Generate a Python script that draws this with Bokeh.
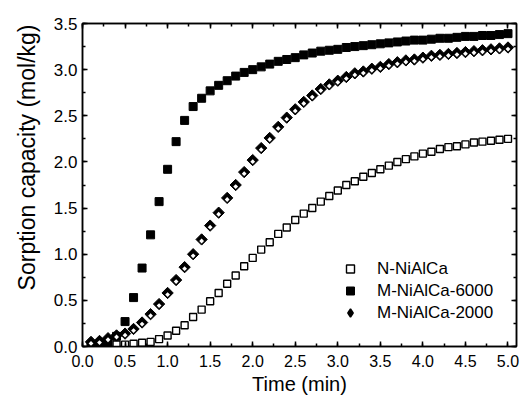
from bokeh.plotting import figure
from bokeh.models import (LinearAxis, SingleIntervalTicker, Range1d, Legend, LegendItem,
                          Title, CustomJSTickFormatter, PrintfTickFormatter, ColumnDataSource)
from bokeh.transform import dodge
from bokeh.embed import file_html
from bokeh.resources import INLINE
import math

time_min = [0.1, 0.2, 0.3, 0.4, 0.5, 0.6, 0.7, 0.8, 0.9, 1.0,
            1.1, 1.2, 1.3, 1.4, 1.5, 1.6, 1.7, 1.8, 1.9, 2.0,
            2.1, 2.2, 2.3, 2.4, 2.5, 2.6, 2.7, 2.8, 2.9, 3.0,
            3.1, 3.2, 3.3, 3.4, 3.5, 3.6, 3.7, 3.8, 3.9, 4.0,
            4.1, 4.2, 4.3, 4.4, 4.5, 4.6, 4.7, 4.8, 4.9, 5.0]

n_nialca = [0.02, 0.02, 0.02, 0.02, 0.02, 0.03, 0.04, 0.05, 0.08, 0.12,
            0.17, 0.23, 0.32, 0.40, 0.49, 0.58, 0.68, 0.77, 0.87, 0.96,
            1.05, 1.13, 1.22, 1.29, 1.37, 1.44, 1.50, 1.57, 1.63, 1.69,
            1.75, 1.79, 1.84, 1.88, 1.92, 1.96, 2.00, 2.03, 2.06, 2.09,
            2.11, 2.14, 2.16, 2.17, 2.19, 2.21, 2.22, 2.23, 2.24, 2.25]

m_nialca_6000 = [0.01, 0.02, 0.04, 0.11, 0.27, 0.53, 0.85, 1.21, 1.57, 1.92,
                 2.22, 2.45, 2.60, 2.69, 2.77, 2.83, 2.88, 2.93, 2.97, 3.00,
                 3.03, 3.06, 3.09, 3.11, 3.13, 3.16, 3.18, 3.20, 3.21, 3.22,
                 3.24, 3.25, 3.26, 3.27, 3.28, 3.29, 3.30, 3.31, 3.32, 3.32,
                 3.33, 3.34, 3.34, 3.35, 3.36, 3.36, 3.37, 3.37, 3.38, 3.39]

m_nialca_2000 = [0.05, 0.06, 0.09, 0.12, 0.14, 0.19, 0.26, 0.35, 0.46, 0.58,
                 0.72, 0.86, 1.00, 1.16, 1.31, 1.45, 1.61, 1.75, 1.89, 2.02,
                 2.15, 2.26, 2.38, 2.48, 2.57, 2.65, 2.72, 2.79, 2.84, 2.88,
                 2.92, 2.96, 2.98, 3.01, 3.03, 3.06, 3.08, 3.10, 3.11, 3.13,
                 3.15, 3.16, 3.17, 3.18, 3.19, 3.20, 3.21, 3.22, 3.23, 3.24]

series_labels = ["N-NiAlCa", "M-NiAlCa-6000", "M-NiAlCa-2000"]

FONT = "Liberation Sans"

src = ColumnDataSource(data=dict(t=time_min, a=n_nialca, b=m_nialca_6000, c=m_nialca_2000))

p = figure(width=522, height=397, x_range=Range1d(0, 5.1), y_range=Range1d(0, 3.5),
           output_backend="svg", toolbar_location=None,
           min_border_left=81, min_border_right=6, min_border_top=23, min_border_bottom=50)
p.grid.visible = False
p.outline_line_color = "black"
p.outline_line_width = 1.5
p.background_fill_color = "white"
p.border_fill_color = "white"


def style_axis(ax, labels=True, size="16px"):
    ax.ticker = SingleIntervalTicker(interval=0.5, num_minor_ticks=2)
    ax.axis_line_color = "black"
    ax.axis_line_width = 1.5
    ax.major_tick_line_color = "black"
    ax.major_tick_line_width = 1.5
    ax.minor_tick_line_color = "black"
    ax.minor_tick_line_width = 1.5
    ax.major_tick_in = 5
    ax.major_tick_out = 0
    ax.minor_tick_in = 3
    ax.minor_tick_out = 0
    ax.major_label_text_font = FONT
    ax.major_label_text_color = "black"
    ax.major_label_text_font_size = size
    if labels:
        ax.formatter = PrintfTickFormatter(format="%.1f")
    else:
        ax.formatter = CustomJSTickFormatter(code="return ''")
        ax.major_label_text_font_size = "0px"
        ax.major_label_standoff = 0


xa = p.xaxis[0]
ya = p.yaxis[0]
style_axis(xa, size="16px")
style_axis(ya, size="17px")
xa.major_label_standoff = 8
ya.major_label_standoff = 5
xa.axis_label = "Time (min)"
xa.axis_label_text_font = FONT
xa.axis_label_text_font_size = "20px"
xa.axis_label_text_font_style = "normal"
xa.axis_label_text_color = "black"
xa.axis_label_standoff = 3

top_ax = LinearAxis()
style_axis(top_ax, labels=False)
p.add_layout(top_ax, "above")
right_ax = LinearAxis()
style_axis(right_ax, labels=False)
p.add_layout(right_ax, "right")

ytitle = Title(text="Sorption capacity (mol/kg)", align="right", offset=1,
               text_font=FONT, text_font_size="23px", text_font_style="normal",
               text_color="black", standoff=22)
p.add_layout(ytitle, "left")

r1 = p.scatter("t", "a", source=src, marker="square", size=7,
               fill_color="white", line_color="black", line_width=1.4)
r2 = p.scatter("t", "b", source=src, marker="square", size=8,
               fill_color="black", line_color="black", line_width=1)
r3a = p.scatter("t", "c", source=src, marker="square", size=8, angle=math.pi / 4,
                fill_color="black", line_color="black", line_width=1)
r3b = p.scatter("t", dodge("c", -0.017, range=p.y_range), source=src, marker="square",
                size=3.4, angle=math.pi / 4,
                fill_color="white", line_color=None)
# legend-only swatch for the half-filled diamond: shifted far outside the x range
r3_leg = p.scatter(dodge("t", 100, range=p.x_range), "c", source=src,
                   marker="diamond", fill_color="black",
                   line_color="black", line_width=1.5)

legend = Legend(items=[LegendItem(label=series_labels[0], renderers=[r1]),
                       LegendItem(label=series_labels[1], renderers=[r2]),
                       LegendItem(label=series_labels[2], renderers=[r3_leg])],
                location=(258, 23), border_line_color=None, background_fill_alpha=0,
                padding=0, margin=0, spacing=1, glyph_width=20, glyph_height=21,
                label_height=21, label_standoff=17, label_text_font=FONT,
                label_text_font_size="17px", label_text_color="black")
p.add_layout(legend)

open("out.html", "w").write(file_html(p, INLINE))
